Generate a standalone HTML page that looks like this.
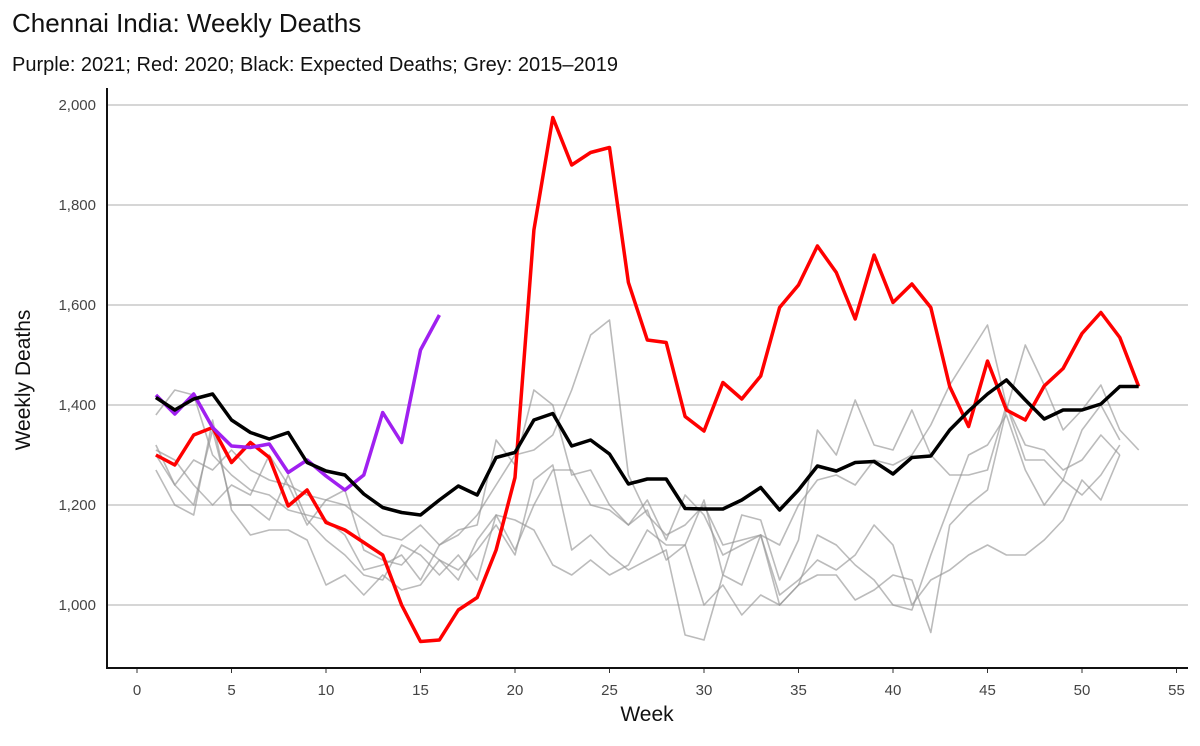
<!DOCTYPE html>
<html><head><meta charset="utf-8"><style>
body{margin:0;background:#fff;font-family:"Liberation Sans",sans-serif}
svg text{font-family:"Liberation Sans",sans-serif}
</style></head><body>
<svg id="c" width="1200" height="741">
<text x="12" y="32" font-size="26" fill="#111">Chennai India: Weekly Deaths</text>
<text x="12" y="71" font-size="20" fill="#111">Purple: 2021; Red: 2020; Black: Expected Deaths; Grey: 2015–2019</text>
<g id="grid"></g><g id="grey"></g><g id="main"></g><g id="axes"></g>
<text x="0" y="0" font-size="21" fill="#111" text-anchor="middle" transform="translate(30,380) rotate(-90)">Weekly Deaths</text>
<text x="647" y="721" font-size="21" fill="#111" text-anchor="middle">Week</text>
</svg>
<script>
const yTicks=[1000,1200,1400,1600,1800,2000];
const yTickLabels=["1,000","1,200","1,400","1,600","1,800","2,000"];
const xTicks=[0,5,10,15,20,25,30,35,40,45,50,55];
const red2020=[1300,1280,1340,1355,1285,1325,1295,1198,1230,1165,1150,1125,1100,1000,927,930,990,1015,1110,1255,1750,1975,1880,1905,1915,1645,1530,1525,1377,1348,1445,1412,1458,1595,1640,1718,1665,1572,1700,1605,1642,1595,1437,1357,1488,1390,1370,1438,1473,1543,1585,1535,1437];
const expected=[1415,1390,1412,1422,1370,1345,1332,1345,1285,1268,1260,1222,1195,1185,1180,1210,1238,1220,1295,1305,1370,1383,1318,1330,1302,1242,1252,1252,1193,1192,1192,1210,1235,1190,1230,1278,1268,1285,1287,1262,1295,1298,1350,1388,1422,1450,1410,1372,1390,1390,1402,1437,1437];
const purple2021=[1420,1382,1422,1355,1318,1315,1322,1265,1290,1258,1230,1260,1385,1325,1510,1580];
const grey2015=[1320,1240,1290,1270,1310,1270,1250,1240,1220,1210,1200,1170,1140,1130,1160,1120,1140,1180,1240,1300,1310,1340,1430,1540,1570,1260,1180,1140,1160,1200,1120,1130,1140,1120,1200,1250,1260,1240,1290,1280,1300,1360,1440,1500,1560,1400,1320,1310,1270,1290,1340,1300];
const grey2016=[1380,1430,1420,1300,1260,1230,1220,1190,1180,1170,1140,1070,1080,1100,1050,1120,1150,1160,1330,1280,1430,1400,1260,1270,1200,1160,1210,1130,1220,1180,1100,1120,1140,1000,1040,1060,1060,1010,1030,1060,1050,945,1160,1200,1230,1390,1520,1440,1350,1390,1440,1350,1310];
const grey2017=[1300,1240,1200,1350,1200,1200,1170,1260,1170,1130,1100,1060,1050,1120,1100,1060,1100,1050,1180,1110,1200,1270,1270,1200,1190,1160,1190,1090,1120,1210,1060,1180,1170,1050,1130,1350,1300,1410,1320,1310,1390,1300,1260,1260,1270,1400,1290,1290,1250,1350,1400,1330];
const grey2018=[1270,1200,1180,1370,1190,1140,1150,1150,1130,1040,1060,1020,1060,1030,1040,1090,1070,1110,1160,1100,1250,1280,1110,1140,1100,1070,1090,1110,940,930,1060,1040,1140,1020,1050,1090,1070,1100,1160,1120,1000,1050,1070,1100,1120,1100,1100,1130,1170,1250,1210,1300];
const grey2019=[1310,1290,1240,1200,1240,1220,1300,1240,1160,1210,1230,1110,1090,1080,1120,1090,1050,1130,1180,1170,1150,1080,1060,1090,1060,1080,1150,1120,1120,1000,1040,980,1020,1000,1040,1140,1120,1080,1050,1000,990,1100,1200,1300,1320,1380,1270,1200,1250,1220,1260,1320];
const X=w=>137+w*18.9, Y=v=>605-(v-1000)*0.5;
const NS='http://www.w3.org/2000/svg';
function mk(t,p,a){const e=document.createElementNS(NS,t);for(const k in a)e.setAttribute(k,a[k]);p.appendChild(e);return e;}
const grid=document.getElementById('grid'),axes=document.getElementById('axes');
yTicks.forEach((v,i)=>{
 const l=mk('line',grid,{x1:107,x2:1188,y1:Y(v),y2:Y(v),stroke:'#c8c8c8','stroke-width':1.5});
 
 
 const t=mk('text',axes,{x:96,y:Y(v)+5,'font-size':15,fill:'#444','text-anchor':'end'});
 t.textContent=yTickLabels[i];
 
 
});
xTicks.forEach(w=>{
 const l=mk('line',axes,{x1:X(w),x2:X(w),y1:668,y2:673,stroke:'#333','stroke-width':1});
 
 
 const t=mk('text',axes,{x:X(w),y:695,'font-size':15,fill:'#444','text-anchor':'middle'});
 t.textContent=w;
 
 
});
const ya=mk('line',axes,{x1:107,x2:107,y1:88,y2:669,stroke:'#111','stroke-width':2});


const xa=mk('line',axes,{x1:106,x2:1188,y1:668,y2:668,stroke:'#111','stroke-width':2});


function line(g,arr,col,w,name){
 const d=arr.map((v,i)=>(i?'L':'M')+X(i+1).toFixed(1)+','+Y(v).toFixed(1)).join('');
 const p=mk('path',g,{d:d,fill:'none',stroke:col,'stroke-width':w,'stroke-linejoin':'round'});
 
 
}
const gg=document.getElementById('grey'),mg=document.getElementById('main');
line(gg,grey2015,'rgba(150,150,150,0.65)',1.6,'line-2015');
line(gg,grey2016,'rgba(150,150,150,0.65)',1.6,'line-2016');
line(gg,grey2017,'rgba(150,150,150,0.65)',1.6,'line-2017');
line(gg,grey2018,'rgba(150,150,150,0.65)',1.6,'line-2018');
line(gg,grey2019,'rgba(150,150,150,0.65)',1.6,'line-2019');
line(mg,red2020,'#ff0000',3.5,'line-2020');
line(mg,purple2021,'#a020f0',3.5,'line-2021');
line(mg,expected,'#000',3.5,'line-expected');
</script>
</body></html>
